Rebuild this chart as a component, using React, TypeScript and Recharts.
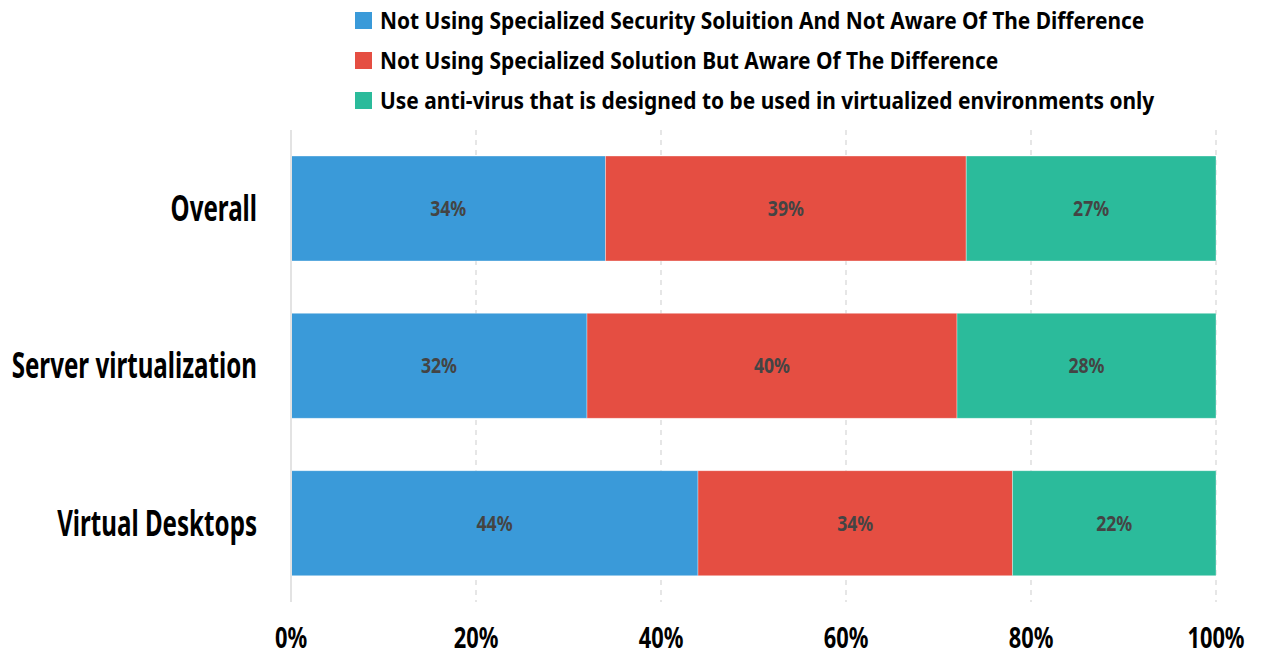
import React from 'react';
import { BarChart, Bar, XAxis, YAxis, CartesianGrid, Legend, LabelList } from 'recharts';

const categories = ['Overall', 'Server virtualization', 'Virtual Desktops'];
const notAware = [34, 32, 44];
const awareNotUsing = [39, 40, 34];
const virtualizedAV = [27, 28, 22];
const xTicks = [0, 20, 40, 60, 80, 100];

const seriesNames = [
  'Not Using Specialized Security Soluition And Not Aware Of The Difference',
  'Not Using Specialized Solution But Aware Of The Difference',
  'Use anti-virus that is designed to be used in virtualized environments only',
];
const colors = ['#3a9ad9', '#e54e42', '#2bbb9b'];

const data = categories.map((name, i) => ({
  name,
  a: notAware[i],
  b: awareNotUsing[i],
  c: virtualizedAV[i],
}));

const FONT = '"Noto Sans", "DejaVu Sans", sans-serif';

const squeeze = (x: number, y: number, s: number) =>
  `translate(${x},${y}) scale(${s},1) translate(${-x},${-y})`;

const LegendContent = () => (
  <div style={{ height: 130, paddingLeft: 355, paddingTop: 0, boxSizing: 'border-box', fontFamily: FONT, fontWeight: 700 }}>
    {seriesNames.map((n, i) => (
      <div key={n} style={{ height: 40, display: 'flex', alignItems: 'center', whiteSpace: 'nowrap' }}>
        <span style={{ width: 17, height: 17, background: colors[i], display: 'inline-block', marginRight: 8, flex: '0 0 auto' }} />
        <span style={{ fontSize: 22.5, color: '#000', display: 'inline-block', transform: 'scaleX(0.93)', transformOrigin: 'left center' }}>{n}</span>
      </div>
    ))}
  </div>
);

const pct = (v: any) => `${v}%`;

const YTick = (props: any) => {
  const { x, y, payload } = props;
  return (
    <text x={x} y={y} dy="0.355em" textAnchor="end" fill="#000" fontSize={35} fontWeight={700} fontFamily={FONT} transform={squeeze(x, y, 0.69)}>
      {payload.value}
    </text>
  );
};

const XTick = (props: any) => {
  const { x, y, payload } = props;
  return (
    <text x={x} y={y} dy="0.71em" textAnchor="middle" fill="#000" fontSize={28} fontWeight={700} fontFamily={FONT} transform={squeeze(x, y, 0.78)}>
      {pct(payload.value)}
    </text>
  );
};

const BarLabel = (props: any) => {
  const { x, y, width, height, value } = props;
  const cx = x + width / 2;
  const cy = y + height / 2;
  return (
    <text x={cx} y={cy} dy="0.355em" textAnchor="middle" fill="#444" fontSize={21} fontWeight={700} fontFamily={FONT} transform={squeeze(cx, cy, 0.84)}>
      {pct(value)}
    </text>
  );
};

export default function App() {
  return (
    <div style={{ position: 'absolute', left: 0, top: 0, background: '#fff' }}>
      <BarChart
        width={1264}
        height={657}
        data={data}
        layout="vertical"
        margin={{ top: 0, right: 48, bottom: 0, left: 0 }}
        barCategoryGap={26}
      >
        <Legend
          verticalAlign="top"
          align="left"
          content={<LegendContent />}
          wrapperStyle={{ left: 0, top: 0, width: 1264, height: 130 }}
        />
        <CartesianGrid horizontal={false} stroke="#e6e6e6" strokeWidth={2} strokeDasharray="5 5" />
        <XAxis
          type="number"
          domain={[0, 100]}
          ticks={xTicks}
          axisLine={false}
          tickLine={false}
          height={55}
          tickSize={0}
          tickMargin={26}
          tick={<XTick />}
        />
        <YAxis
          type="category"
          dataKey="name"
          width={291}
          axisLine={{ stroke: '#e3e3e3', strokeWidth: 2 }}
          tickLine={false}
          tickSize={0}
          tickMargin={34}
          tick={<YTick />}
        />
        <Bar dataKey="a" stackId="s" fill={colors[0]} isAnimationActive={false} stroke="#ffffff" strokeOpacity={0.35} strokeWidth={1}>
          <LabelList dataKey="a" content={<BarLabel />} />
        </Bar>
        <Bar dataKey="b" stackId="s" fill={colors[1]} isAnimationActive={false} stroke="#ffffff" strokeOpacity={0.35} strokeWidth={1}>
          <LabelList dataKey="b" content={<BarLabel />} />
        </Bar>
        <Bar dataKey="c" stackId="s" fill={colors[2]} isAnimationActive={false} stroke="#ffffff" strokeOpacity={0.35} strokeWidth={1}>
          <LabelList dataKey="c" content={<BarLabel />} />
        </Bar>
      </BarChart>
    </div>
  );
}
